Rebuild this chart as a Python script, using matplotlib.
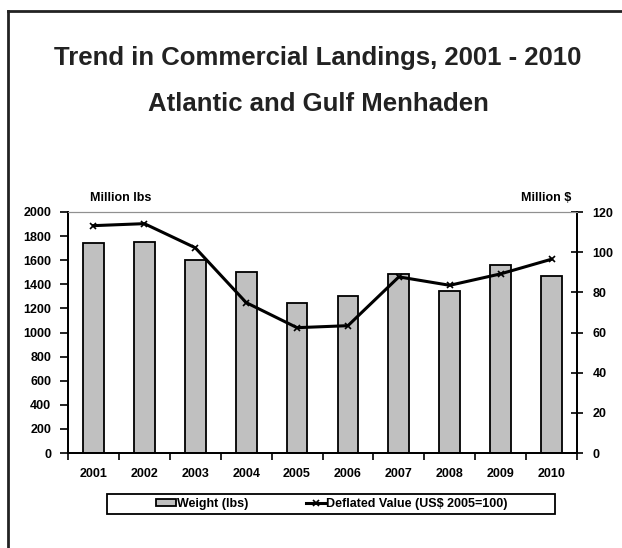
import numpy as np
import matplotlib.pyplot as plt
from matplotlib.lines import Line2D
from matplotlib.patches import Rectangle

plt.rcParams['font.family'] = ['Liberation Sans', 'DejaVu Sans']
plt.rcParams['font.weight'] = 'bold'

years = ['2001', '2002', '2003', '2004', '2005', '2006', '2007', '2008', '2009', '2010']
weight = [1740, 1752, 1599, 1500, 1242, 1306, 1487, 1342, 1564, 1473]
value = [113.2, 114.2, 102.2, 74.9, 62.4, 63.4, 87.7, 83.5, 89.2, 96.5]

W, H = 622, 548
fig = plt.figure(figsize=(W/100, H/100), dpi=100)
ax = fig.add_axes([68/W, 1-453/H, (577-68)/W, (453-212)/H])
ax2 = ax.twinx()

x = np.arange(len(years))
ax.bar(x, weight, width=0.41, color='#C0C0C0', edgecolor='black', linewidth=1.3, label='Weight (lbs)', zorder=2)
ax2.plot(x, value, color='black', lw=2.2, marker='x', ms=4, mew=1.2, label='Deflated Value (US$ 2005=100)', zorder=3)

ax.set_xlim(-0.5, 9.5)
ax.set_ylim(0, 2000)
ax2.set_ylim(0, 120)
ax.set_yticks(range(0, 2001, 200))
ax2.set_yticks(range(0, 121, 20))
ax.set_xticks(np.arange(-0.5, 10, 1))
ax.set_xticklabels([])
ax.set_xticks(x, minor=True)
ax.set_xticklabels(years, minor=True, fontsize=9, fontweight='bold')
ax.tick_params(axis='x', which='major', length=5, width=1.2, direction='out')
ax.tick_params(axis='x', which='minor', length=0, pad=11)
ax.tick_params(axis='y', length=6, width=1.2, pad=6, labelsize=9)
ax2.tick_params(axis='y', length=8, width=1.2, direction='inout', pad=7, labelsize=9)

for a in (ax, ax2):
    a.spines['top'].set_color('#909090')
    a.spines['top'].set_linewidth(0.8)
    a.spines['left'].set_linewidth(1.3)
    a.spines['right'].set_linewidth(1.3)
    a.spines['bottom'].set_linewidth(1.3)

fig.text(90/W, 1-198/H, 'Million lbs', fontsize=9, fontweight='bold', va='center')
fig.text(571/W, 1-198/H, 'Million $', fontsize=9, fontweight='bold', va='center', ha='right')

fig.text(318/W, 1-65/H, 'Trend in Commercial Landings, 2001 - 2010', fontsize=18.5, fontweight='bold',
         ha='center', va='baseline', color='#222222')
fig.text(318/W, 1-111/H, 'Atlantic and Gulf Menhaden', fontsize=18.5, fontweight='bold',
         ha='center', va='baseline', color='#222222')

h1, l1 = ax.get_legend_handles_labels()
h2, l2 = ax2.get_legend_handles_labels()
leg = fig.legend(h1 + h2, l1 + l2, loc='center', bbox_to_anchor=(332/W, 1-504/H), ncol=2,
                 fontsize=9, frameon=False, handlelength=1.6, handleheight=0.5,
                 handletextpad=0.05, columnspacing=4.6, borderaxespad=0)
fig.add_artist(Rectangle((107/W, 1-514/H), (555-107)/W, 20/H, transform=fig.transFigure,
                         fill=False, edgecolor='black', lw=1.3))

fig.add_artist(Line2D([8/W, 8/W], [0, 1-11/H], color='#222222', lw=2))
fig.add_artist(Line2D([8/W, 1], [1-11/H, 1-11/H], color='#222222', lw=2))

fig.savefig('out.png', dpi=100)
